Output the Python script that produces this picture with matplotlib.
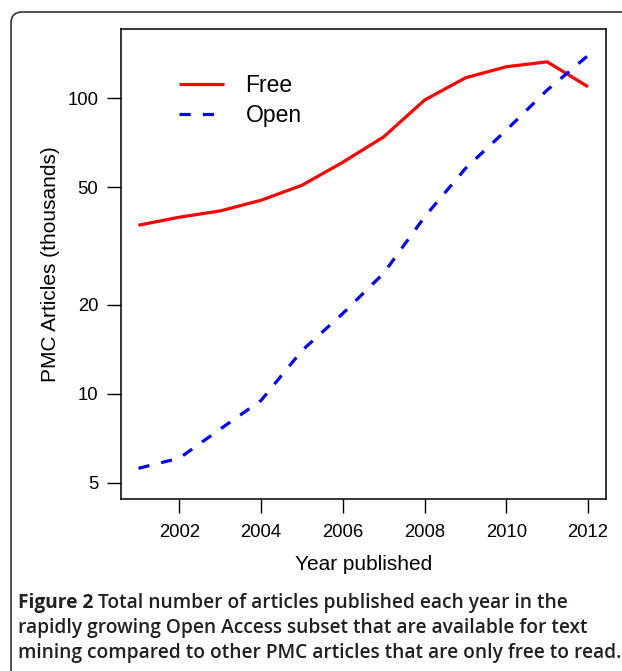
import matplotlib
matplotlib.use("Agg")
import matplotlib.pyplot as plt
import matplotlib.transforms as mtransforms
from matplotlib.patches import FancyBboxPatch
from matplotlib.ticker import FixedLocator, FixedFormatter, NullLocator

years = [2001, 2002, 2003, 2004, 2005, 2006, 2007, 2008, 2009, 2010, 2011, 2012]
free = [37.2, 39.6, 41.6, 45.2, 50.8, 60.8, 74.1, 98.7, 117.4, 128.0, 133.0, 109.5]
open_ = [5.59, 6.05, 7.59, 9.49, 14.0, 18.7, 25.6, 39.7, 57.9, 78.1, 106.7, 139.7]
series_labels = ["Free", "Open"]
xticks = [2002, 2004, 2006, 2008, 2010, 2012]
yticks = [5, 10, 20, 50, 100]
ytick_labels = ["5", "10", "20", "50", "100"]
xlabel = "Year published"
ylabel = "PMC Articles (thousands)"
cap_bold = "Figure 2"
cap_lines = [" Total number of articles published each year in the",
             "rapidly growing Open Access subset that are available for text",
             "mining compared to other PMC articles that are only free to read."]

W, H = 622, 671
DPI = 100
fig = plt.figure(figsize=(W / DPI, H / DPI), dpi=DPI)
fig.patch.set_facecolor("white")

# outer rounded frame
frame = FancyBboxPatch((11, -30), 700, H - 12 + 30,
                       boxstyle="round,pad=0,rounding_size=11",
                       transform=mtransforms.IdentityTransform(),
                       facecolor="none", edgecolor="#333333", linewidth=1.2)
fig.patches.append(frame)

L, R, T, B = 120.5, 606.0, 29.0, 499.0
ax = fig.add_axes([L / W, 1 - B / H, (R - L) / W, (B - T) / H])
ax.set_yscale("log")
font = "Liberation Sans"

ax.plot(years, free, color="#ff0000", lw=2.3, solid_capstyle="butt", label=series_labels[0])
ax.plot(years, open_, color="#0000ff", lw=2.3, dashes=(3.5, 3.8), dash_capstyle="butt",
        label=series_labels[1])

ax.set_xlim(2000.56, 2012.44)
ax.set_ylim(4.40, 171.8)
ax.yaxis.set_major_locator(FixedLocator(yticks))
ax.yaxis.set_major_formatter(FixedFormatter(ytick_labels))
ax.yaxis.set_minor_locator(NullLocator())
ax.set_xticks(xticks)
ax.set_xticklabels([str(x) for x in xticks])
ax.tick_params(axis="both", direction="out", length=10, width=1.0, colors="black",
               labelsize=13.3)
ax.tick_params(axis="x", pad=8)
ax.tick_params(axis="y", pad=6)
for lab in ax.get_xticklabels() + ax.get_yticklabels():
    lab.set_fontfamily(font)
for s in ax.spines.values():
    s.set_linewidth(1.1)
    s.set_color("black")

ax.set_xlabel(xlabel, fontsize=15, fontfamily=font, labelpad=10)
ax.set_ylabel(ylabel, fontsize=15, fontfamily=font, labelpad=5)

leg = ax.legend(loc="upper left", bbox_to_anchor=(179 / W, 1 - 74 / H),
                bbox_transform=fig.transFigure, frameon=False, borderpad=0,
                borderaxespad=0, handlelength=1.95, handletextpad=0.95,
                labelspacing=0.3, prop={"family": font, "size": 16.5})

# caption
cap_font = "Open Sans"
cap_color = "#231f20"
x0 = 18
target_w = 600
baselines = [608, 633, 658]
renderer = fig.canvas.get_renderer()

probe = fig.text(0, 0, cap_lines[2], fontsize=13, fontweight="semibold", family=cap_font)
pw = probe.get_window_extent(renderer).width
probe.remove()
cap_size = 13 * target_w / pw

tb = fig.text(x0 / W, 1 - baselines[0] / H, cap_bold, fontsize=cap_size, fontweight="bold",
              family=cap_font, color=cap_color, va="baseline", ha="left")
bb = tb.get_window_extent(renderer)
fig.text(bb.x1 / W, 1 - baselines[0] / H, cap_lines[0], fontsize=cap_size, fontweight="semibold",
         family=cap_font, color=cap_color, va="baseline", ha="left")
for i in (1, 2):
    fig.text(x0 / W, 1 - baselines[i] / H, cap_lines[i], fontsize=cap_size, fontweight="semibold",
             family=cap_font, color=cap_color, va="baseline", ha="left")

fig.savefig("out.png", dpi=DPI, facecolor="white")
